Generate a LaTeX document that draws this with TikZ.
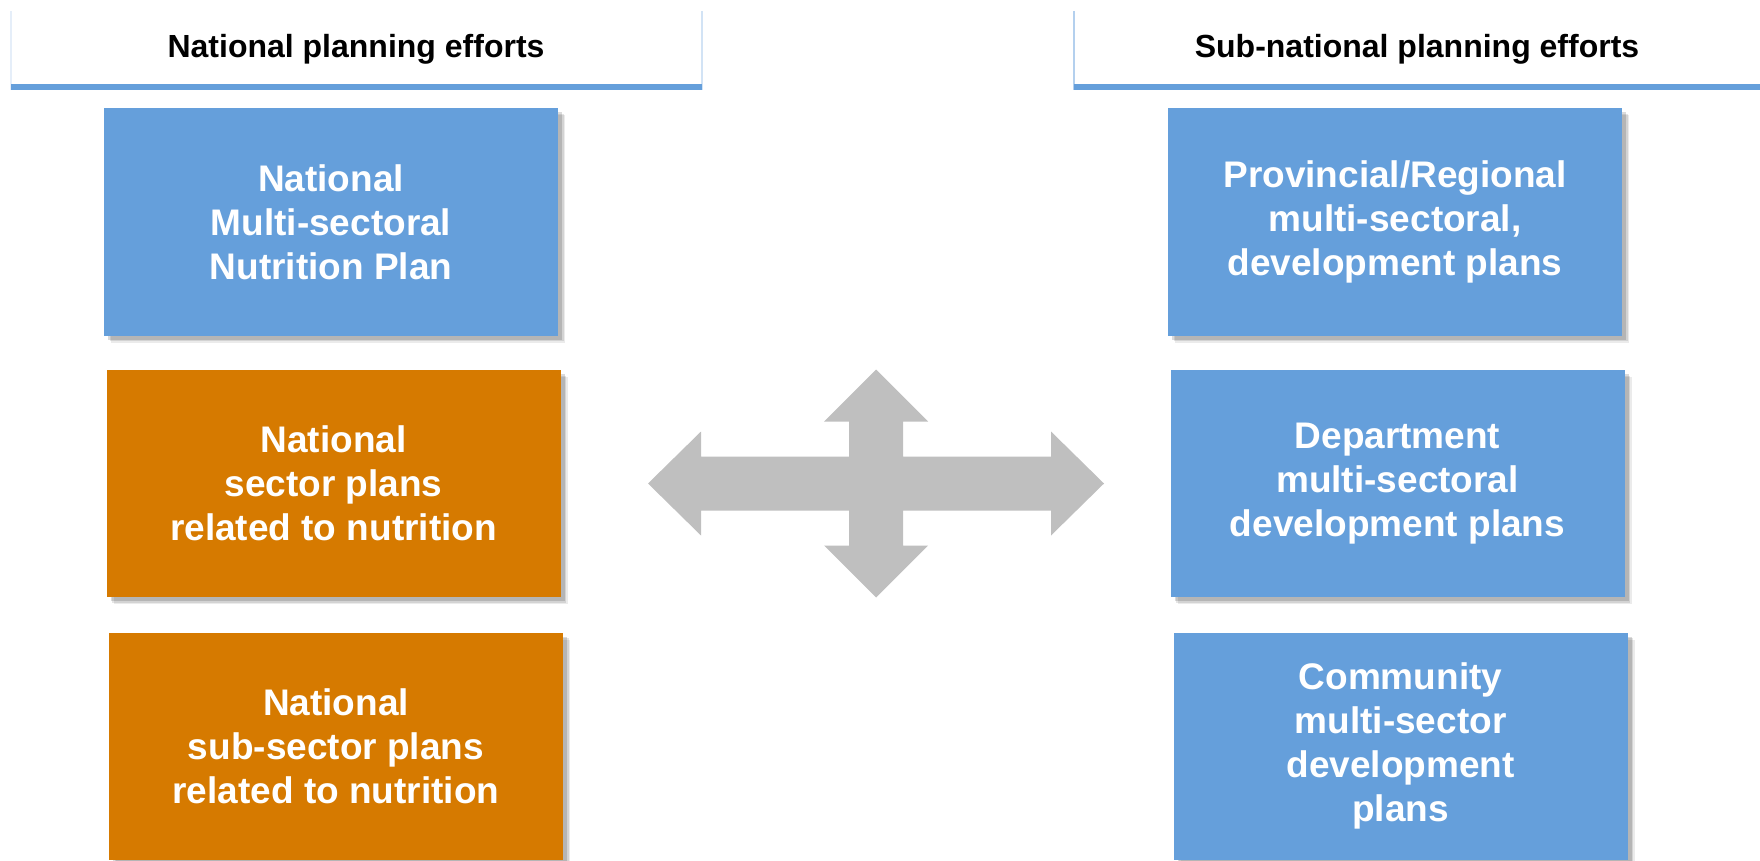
\documentclass[tikz,border=0pt]{standalone}
\usepackage{fontspec}
\setmainfont{Liberation Sans}
\usepackage{tikz}
\usetikzlibrary{positioning,shadows,calc}
\definecolor{planblue}{HTML}{659FDB}
\definecolor{planorange}{HTML}{D67A00}
\definecolor{crossgray}{HTML}{BFBFBF}
\definecolor{edgeblue}{HTML}{B4D0EE}

\begin{document}
\begin{tikzpicture}[x=0.5pt, y=-0.5pt,
  plan/.style={fill=planblue, minimum width=227pt, minimum height=113.5pt, inner sep=0pt, align=center,
    text=white, font=\fontsize{18.5}{22}\selectfont\bfseries,
    general shadow={shadow xshift=3.5pt, shadow yshift=-3.5pt, fill=black, opacity=0.08},
    general shadow={shadow xshift=2.8pt, shadow yshift=-2.8pt, fill=black, opacity=0.1},
    general shadow={shadow xshift=2pt, shadow yshift=-2pt, fill=black, opacity=0.14}},
  sector/.style={plan, fill=planorange},
  head/.style={font=\fontsize{16}{19}\selectfont\bfseries, anchor=base}]
\useasboundingbox (0,0) rectangle (1760,861);
% column headers
\draw[edgeblue!35, line width=0.6pt] (11,11) -- (11,90);
\draw[edgeblue!60, line width=0.6pt] (702,11) -- (702,90);
\fill[planblue] (11,84) rectangle (702,90);
\draw[edgeblue, line width=0.8pt] (1074,11) -- (1074,90);
\fill[planblue] (1074,84) rectangle (1760,90);
\node[head] (nathead) at (356,58) {National planning efforts};
\node[head] (subhead) at (1417,58) {Sub-national planning efforts};
% national plans
\node[plan] (natplan) at (331,222) {National\\ Multi-sectoral\\ Nutrition Plan};
\node[sector] (secplan) at (333.5,483.5) {National\\ sector plans\\ related to nutrition};
\node[sector] (subsecplan) at (336,746) {National\\ sub-sector plans\\ related to nutrition};
% sub-national plans
\node[plan] (provplan) at (1395,222) {Provincial/Regional\\ multi-sectoral,\\ development plans};
\node[plan] (deptplan) at (1397.5,483.5) {Department\\ multi-sectoral\\ development plans};
\node[plan] (complan) at (1400.5,746) {Community\\ multi-sector\\ development\\ plans};
% four-way arrow
\coordinate (cross) at (876,483.5);
\fill[crossgray] ($(cross)+(228,0)$) -- ++(-53,52) -- ++(0,-25) -- ++(-148,0) -- ++(0,35) -- ++(25,0)
  -- ++(-52,52) -- ++(-52,-52) -- ++(25,0) -- ++(0,-35) -- ++(-148,0) -- ++(0,25) -- ++(-53,-52)
  -- ++(53,-52) -- ++(0,25) -- ++(148,0) -- ++(0,-35) -- ++(-25,0) -- ++(52,-52) -- ++(52,52)
  -- ++(-25,0) -- ++(0,35) -- ++(148,0) -- ++(0,-25) -- cycle;
\end{tikzpicture}
\end{document}
